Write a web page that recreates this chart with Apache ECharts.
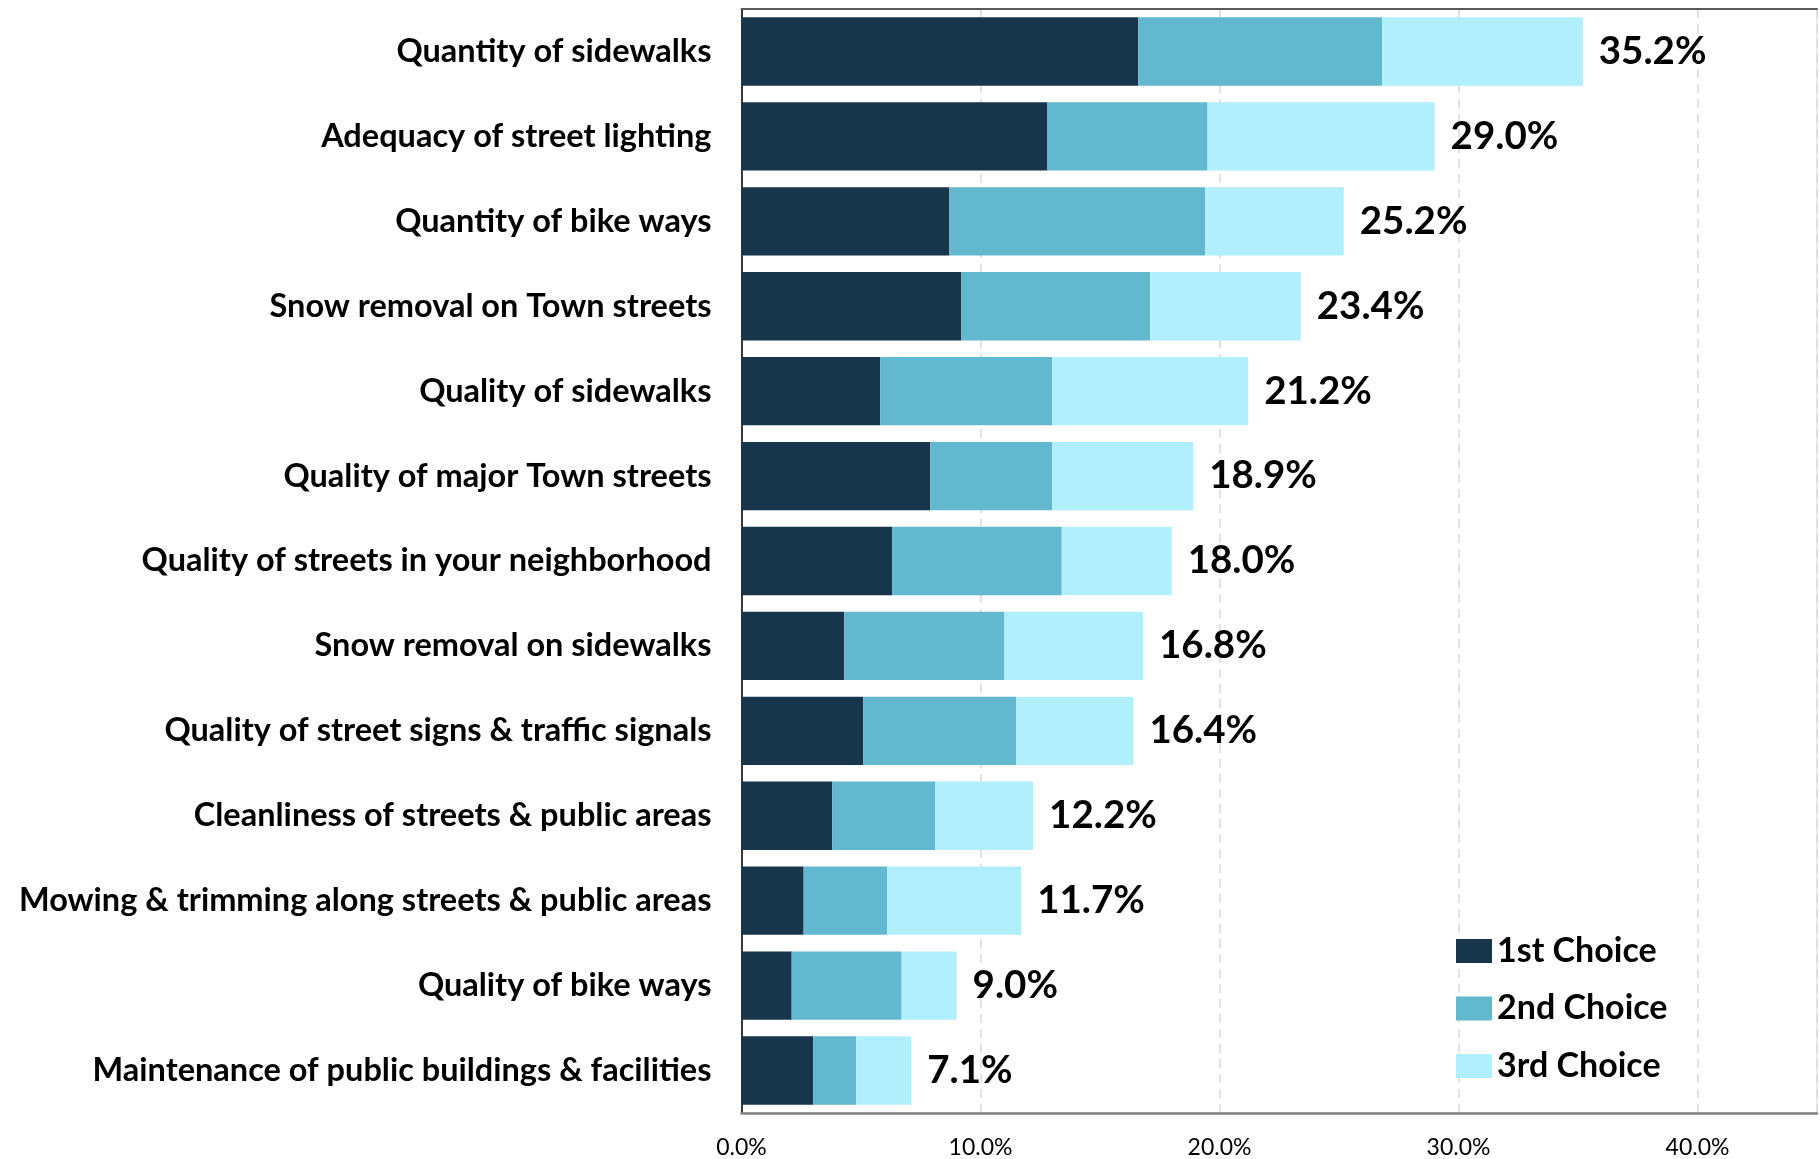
<!DOCTYPE html>
<html>
<head>
<meta charset="utf-8">
<title>Transportation priorities</title>
<script src="https://cdn.jsdelivr.net/npm/echarts@6/dist/echarts.min.js"></script>
<style>
  html, body { margin: 0; padding: 0; background: #ffffff; }
  #chart { width: 1820px; height: 1159px; }
</style>
</head>
<body>
<div id="chart"></div>
<script>
// Items, top to bottom
const categories = [
  'Quantity of sidewalks',
  'Adequacy of street lighting',
  'Quantity of bike ways',
  'Snow removal on Town streets',
  'Quality of sidewalks',
  'Quality of major Town streets',
  'Quality of streets in your neighborhood',
  'Snow removal on sidewalks',
  'Quality of street signs & traffic signals',
  'Cleanliness of streets & public areas',
  'Mowing & trimming along streets & public areas',
  'Quality of bike ways',
  'Maintenance of public buildings & facilities'
];

// Share of respondents (%) naming each item as their 1st / 2nd / 3rd choice
const firstChoice  = [16.6, 12.8, 8.7, 9.2, 5.8, 7.9, 6.3, 4.3, 5.1, 3.8, 2.6, 2.1, 3.0];
const secondChoice = [10.2, 6.7, 10.7, 7.9, 7.2, 5.1, 7.1, 6.7, 6.4, 4.3, 3.5, 4.6, 1.8];
const thirdChoice  = [8.4, 9.5, 5.8, 6.3, 8.2, 5.9, 4.6, 5.8, 4.9, 4.1, 5.6, 2.3, 2.3];

// Combined total shown at the end of each bar
const totals = [35.2, 29.0, 25.2, 23.4, 21.2, 18.9, 18.0, 16.8, 16.4, 12.2, 11.7, 9.0, 7.1];

const seriesNames = ['1st Choice', '2nd Choice', '3rd Choice'];
const xTicks = [0, 10, 20, 30, 40];

const FONT = 'Lato, "Open Sans", sans-serif';
const colors = ['#17364B', '#62B9CF', '#B2EFFC'];

const chart = echarts.init(document.getElementById('chart'), null, { renderer: 'canvas' });

const barCommon = {
  type: 'bar',
  stack: 'total',
  barCategoryGap: '19.5%',
  xAxisIndex: 0,
  yAxisIndex: 0
};

chart.setOption({
  animation: false,
  backgroundColor: '#ffffff',
  color: colors,
  grid: {
    left: 741.5,
    right: 1,
    top: 9,
    bottom: 46,
    containLabel: false,
    show: true,
    borderColor: '#D9D9D9',
    borderWidth: 1
  },
  legend: {
    orient: 'vertical',
    left: 1456,
    top: 934,
    padding: 0,
    itemWidth: 36,
    itemHeight: 24,
    itemGap: 23.5,
    icon: 'rect',
    data: seriesNames,
    textStyle: {
      fontFamily: FONT,
      fontWeight: 'bold',
      fontSize: 34,
      color: '#000000'
    }
  },
  xAxis: [
    {
      type: 'value',
      min: 0,
      max: 45,
      interval: 10,
      axisLine: { show: true, lineStyle: { color: '#808080', width: 2.5 } },
      axisTick: { show: false },
      splitLine: {
        show: true,
        lineStyle: { color: '#D9D9D9', width: 1.5, type: [9, 6] }
      },
      axisLabel: {
        margin: 23,
        fontFamily: FONT,
        fontSize: 23,
        color: '#000000',
        formatter: function (v) {
          return xTicks.indexOf(v) >= 0 ? v.toFixed(1) + '%' : '';
        }
      }
    },
    {
      // upper frame line of the plot
      type: 'value',
      position: 'top',
      min: 0,
      max: 45,
      interval: 10,
      axisLine: { show: true, lineStyle: { color: '#595959', width: 2 } },
      axisTick: { show: false },
      axisLabel: { show: false },
      splitLine: { show: false }
    }
  ],
  yAxis: {
    type: 'category',
    inverse: true,
    data: categories,
    axisLine: { show: true, onZero: false, lineStyle: { color: '#000000', width: 1.5 } },
    axisTick: { show: false },
    axisLabel: {
      margin: 30,
      padding: [7, 0, 0, 0],
      fontFamily: FONT,
      fontWeight: 'bold',
      fontSize: 32.5,
      color: '#000000'
    }
  },
  series: [
    Object.assign({}, barCommon, {
      name: seriesNames[0],
      data: firstChoice,
      itemStyle: { color: colors[0] }
    }),
    Object.assign({}, barCommon, {
      name: seriesNames[1],
      data: secondChoice,
      itemStyle: { color: colors[1] }
    }),
    Object.assign({}, barCommon, {
      name: seriesNames[2],
      data: thirdChoice,
      itemStyle: { color: colors[2] },
      label: {
        show: true,
        position: 'right',
        distance: 16,
        padding: [9, 0, 0, 0],
        fontFamily: FONT,
        fontWeight: 'bold',
        fontSize: 38.5,
        color: '#000000',
        formatter: function (p) {
          return totals[p.dataIndex].toFixed(1) + '%';
        }
      }
    })
  ]
});
</script>
</body>
</html>
